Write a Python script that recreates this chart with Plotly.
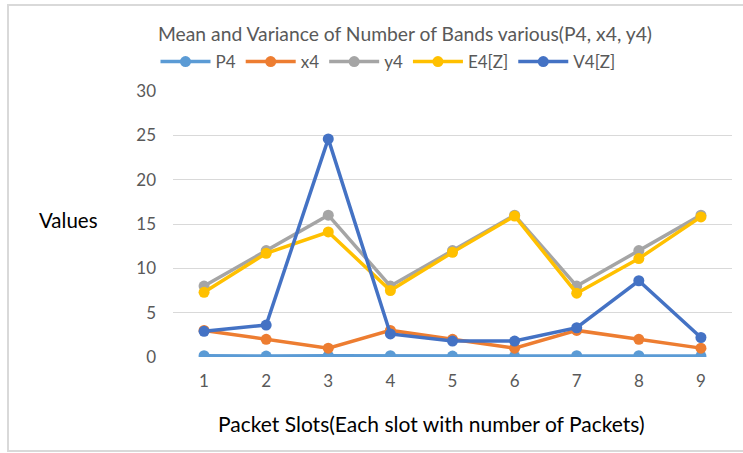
import plotly.graph_objects as go

# Packet slot categories and the five measured series
slots = [1, 2, 3, 4, 5, 6, 7, 8, 9]
p4 = [0.15, 0.1, 0.15, 0.15, 0.1, 0.1, 0.15, 0.15, 0.1]
x4 = [3, 2, 1, 3, 2, 1, 3, 2, 1]
y4 = [8, 12, 16, 8, 12, 16, 8, 12, 16]
e4 = [7.3, 11.7, 14.1, 7.5, 11.8, 15.9, 7.2, 11.1, 15.8]
v4 = [2.9, 3.6, 24.6, 2.6, 1.8, 1.8, 3.3, 8.6, 2.2]
y_ticks = [0, 5, 10, 15, 20, 25, 30]

series = [
    ("P4", p4, "#5B9BD5"),
    ("x4", x4, "#ED7D31"),
    ("y4", y4, "#A5A5A5"),
    ("E4[Z]", e4, "#FFC000"),
    ("V4[Z]", v4, "#4472C4"),
]

FONT = "Lato, Calibri, Carlito, Liberation Sans, sans-serif"

fig = go.Figure()
for name, vals, color in series:
    fig.add_trace(go.Scatter(
        x=slots, y=vals, name=name, mode="lines+markers",
        line=dict(color=color, width=3.5),
        marker=dict(color=color, size=11),
    ))

L, R, T, B = 173, 11, 91, 96
W, H = 743, 453
pw, ph = W - L - R, H - T - B

def px_x(px):
    return (px - L) / pw

def px_y(py):
    return (H - B - py) / ph

fig.update_layout(
    width=W, height=H,
    margin=dict(l=L, r=R, t=T, b=B),
    paper_bgcolor="white", plot_bgcolor="white",
    font=dict(family=FONT, color="#595959", size=17),
    title=dict(
        text="Mean and Variance of Number of Bands various(P4, x4, y4)",
        x=px_x(405), xref="paper", xanchor="center",
        y=1 - 34 / H, yanchor="middle",
        font=dict(size=19.3, color="#595959", family=FONT),
    ),
    showlegend=True,
    legend=dict(
        orientation="h", x=px_x(388), xanchor="center",
        y=px_y(62), yanchor="middle",
        font=dict(size=17, color="#595959", family=FONT),
        itemwidth=50, bgcolor="rgba(0,0,0,0)",
    ),
    xaxis=dict(
        type="linear", range=[0.5, 9.5], tickvals=slots,
        showgrid=False, zeroline=False, showline=False,
        ticks="", ticklabelstandoff=12,
        tickfont=dict(size=17, color="#595959"),
        fixedrange=True,
    ),
    yaxis=dict(
        range=[0, 30], tickvals=y_ticks,
        showgrid=True, gridcolor="#D9D9D9", gridwidth=1.3,
        zeroline=False, showline=False, ticks="",
        ticklabelstandoff=16,
        tickfont=dict(size=17, color="#595959"),
        fixedrange=True,
    ),
    shapes=[dict(
        type="rect", xref="paper", yref="paper",
        x0=px_x(8), x1=px_x(746), y0=px_y(451), y1=px_y(5),
        line=dict(color="#D9D9D9", width=2), fillcolor="rgba(0,0,0,0)",
        layer="below",
    )],
    annotations=[
        dict(text="Values", xref="paper", yref="paper",
             x=px_x(68), y=px_y(220), xanchor="center", yanchor="middle",
             showarrow=False, font=dict(size=20.5, color="#000000", family=FONT)),
        dict(text="Packet Slots(Each slot with number of Packets)",
             xref="paper", yref="paper",
             x=px_x(431), y=px_y(423), xanchor="center", yanchor="middle",
             showarrow=False, font=dict(size=21, color="#000000", family=FONT)),
    ],
)

fig.write_html("out.html")
